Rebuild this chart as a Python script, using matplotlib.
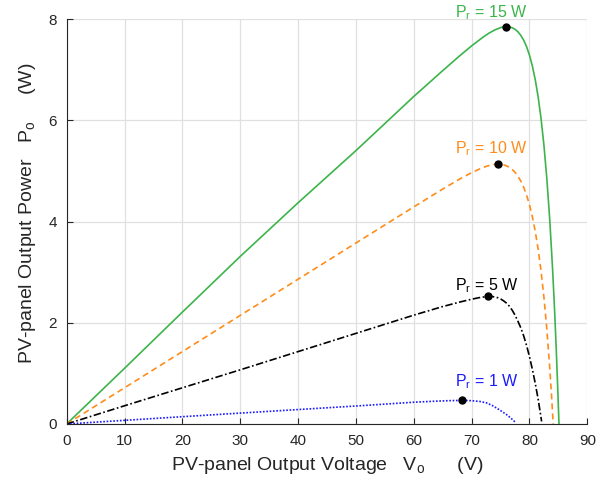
import matplotlib
matplotlib.use('Agg')
import matplotlib.pyplot as plt

plt.rcParams['font.family'] = ['Liberation Sans', 'DejaVu Sans']
plt.rcParams['mathtext.default'] = 'regular'

# P-V curves (voltage V, power W)
v15 = [0, 10, 20, 30, 40, 50, 60, 65, 68, 70, 72, 73, 74, 75, 75.5, 76, 76.5, 77, 77.5, 78, 78.5,
       79, 79.5, 80, 80.5, 81, 81.5, 82, 82.5, 83, 83.5, 84, 84.3, 84.6, 84.9, 85.1]
p15 = [0, 1.10, 2.21, 3.31, 4.37, 5.40, 6.47, 6.98, 7.28, 7.47, 7.644, 7.721, 7.784, 7.830, 7.844,
       7.849, 7.844, 7.828, 7.797, 7.748, 7.677, 7.581, 7.453, 7.286, 7.071, 6.800, 6.459, 6.033,
       5.504, 4.847, 4.041, 3.047, 2.347, 1.555, 0.661, 0.0]

v10 = [0, 10, 20, 30, 40, 50, 60, 65, 68, 70, 72, 73, 74, 74.5, 75, 75.5, 76, 76.5, 77, 77.5, 78,
       78.5, 79, 79.5, 80, 80.5, 81, 81.5, 82, 82.5, 83, 83.5, 83.8, 84.1]
p10 = [0, 0.715, 1.43, 2.145, 2.86, 3.575, 4.289, 4.641, 4.843, 4.966, 5.069, 5.106, 5.129, 5.132,
       5.130, 5.120, 5.101, 5.072, 5.030, 4.972, 4.896, 4.799, 4.675, 4.520, 4.329, 4.092, 3.803,
       3.450, 3.021, 2.501, 1.873, 1.116, 0.587, 0.0]

v5 = [0, 10, 20, 30, 40, 50, 60, 65, 68, 70, 71.5, 72.9, 73.5, 74, 74.5, 75, 75.5, 76, 76.5, 77,
      77.5, 78, 78.5, 79, 79.5, 80, 80.5, 81, 81.5, 82.1]
p5 = [0, 0.36, 0.715, 1.07, 1.43, 1.79, 2.15, 2.32, 2.41, 2.465, 2.50, 2.52, 2.518, 2.51, 2.495,
      2.47, 2.435, 2.39, 2.33, 2.25, 2.15, 2.03, 1.90, 1.74, 1.55, 1.33, 1.08, 0.80, 0.49, 0.05]

v1 = [0, 10, 20, 30, 40, 50, 60, 64, 66.5, 68.4, 70, 71.4, 72.5, 73.5, 74.3, 75.2, 76.1, 76.8, 77.5]
p1 = [0, 0.072, 0.144, 0.215, 0.285, 0.355, 0.43, 0.452, 0.462, 0.466, 0.46, 0.445, 0.42, 0.37,
      0.315, 0.25, 0.18, 0.115, 0.04]

# maximum power points
mpp_v = [76.0, 74.5, 72.9, 68.4]
mpp_p = [7.849, 5.132, 2.52, 0.466]

labels = ['15', '10', '5', '1']
label_x = [67.1, 67.1, 67.1, 67.1]
label_y = [8.04, 5.34, 2.65, 0.74]

green = '#3cb44b'
orange = '#ff8c1a'
blue = '#1a1aff'
colors = [green, orange, 'black', blue]

fig = plt.figure(figsize=(6.04, 4.84), dpi=100)
ax = fig.add_axes([0.1104, 0.124, 0.8620, 0.8367])

ax.plot(v15, p15, color=green, lw=1.2, ls='-')
ax.plot(v10, p10, color=orange, lw=1.2, ls=(0, (3.6, 2.4)))
ax.plot(v5, p5, color='black', lw=1.2, ls=(0, (4.5, 1.5, 1, 1.5)))
ax.plot(v1, p1, color=blue, lw=1.2, ls=(0, (1, 1)))
ax.plot(mpp_v, mpp_p, 'o', color='black', ms=5, zorder=5)

for lab, x, y, c in zip(labels, label_x, label_y, colors):
    ax.text(x, y, 'P$_r$ = ' + lab + ' W', color=c, fontsize=11.5, ha='left', va='baseline',
            clip_on=False)

ax.set_xlim(0, 90)
ax.set_ylim(0, 8)
ax.set_xticks(range(0, 91, 10))
ax.set_yticks([0, 2, 4, 6, 8])
ax.grid(True, color='#e0e0e0', lw=0.9)
ax.set_axisbelow(True)
ax.spines['top'].set_visible(False)
ax.spines['right'].set_visible(False)
for s in ['left', 'bottom']:
    ax.spines[s].set_color('#262626')
    ax.spines[s].set_linewidth(0.8)
ax.tick_params(direction='in', length=4, labelsize=11, colors='#262626', pad=7)

ax.set_xlabel('PV-panel Output Voltage   V$_o$      (V)', fontsize=14, color='#262626', labelpad=5)
ax.set_ylabel('PV-panel Output Power   P$_o$     (W)', fontsize=14, color='#262626')
ax.yaxis.set_label_coords(-0.055, 0.52)

fig.savefig('out.png', dpi=100)
